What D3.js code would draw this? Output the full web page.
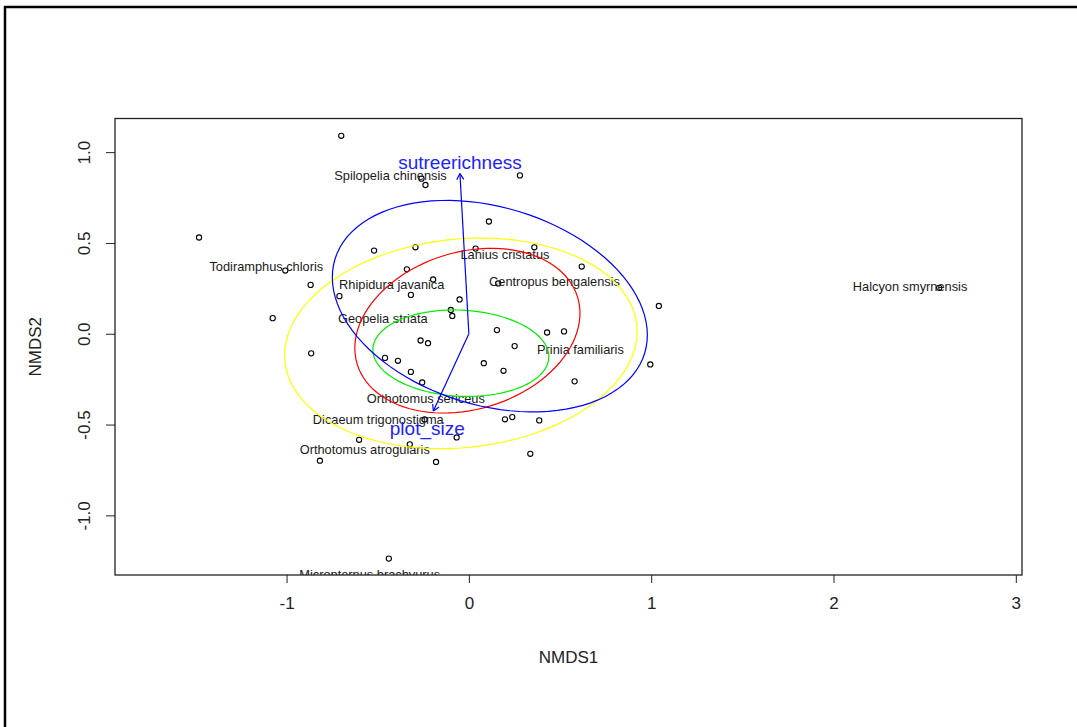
<!DOCTYPE html>
<html>
<head>
<meta charset="utf-8">
<script src="https://cdn.jsdelivr.net/npm/d3@7"></script>
<style>
  body { margin: 0; background: #fff; }
  svg { display: block; font-family: "Liberation Sans", Arial, sans-serif; }
</style>
</head>
<body>
<div id="chart"></div>
<script>
// Site scores (NMDS1, NMDS2)
const siteX = [-0.70, -1.48, -1.007, -0.868, -0.71, -1.076, -0.865, -0.52, -0.46, -0.26,
  -0.238, -0.293, -0.34, -0.196, -0.318, 0.037, -0.051, -0.099, -0.091, 0.28,
  0.11, 0.359, 0.619, 0.161, 1.042, 0.154, 0.429, 0.522, 0.251, -0.265,
  -0.224, -0.389, -0.318, -0.256, -0.602, -0.324, -0.817, -0.18, -0.067, 0.198,
  0.238, 0.386, 0.337, 0.58, 0.995, 0.082, 0.19, -0.439, 2.58, -0.243];
const siteY = [1.09, 0.53, 0.348, 0.269, 0.207, 0.086, -0.108, 0.458, -0.133, 0.854,
  0.819, 0.476, 0.355, 0.299, 0.214, 0.469, 0.189, 0.131, 0.098, 0.872,
  0.618, 0.476, 0.37, 0.277, 0.153, 0.02, 0.007, 0.013, -0.068, -0.037,
  -0.052, -0.149, -0.21, -0.268, -0.584, -0.609, -0.699, -0.706, -0.571, -0.471,
  -0.459, -0.477, -0.661, -0.262, -0.169, -0.162, -0.204, -1.238, 0.253, -0.472];

// Species scores
const speciesNames = ["Spilopelia chinensis", "Todiramphus chloris", "Rhipidura javanica",
  "Geopelia striata", "Lanius cristatus", "Centropus bengalensis", "Prinia familiaris",
  "Halcyon smyrnensis", "Orthotomus sericeus", "Dicaeum trigonostigma",
  "Orthotomus atrogularis", "Micropternus brachyurus"];
const speciesX = [-0.43, -1.111, -0.423, -0.472, 0.198, 0.47, 0.612, 2.42, -0.236, -0.497, -0.571, -0.544];
const speciesY = [0.87, 0.37, 0.269, 0.082, 0.436, 0.285, -0.086, 0.262, -0.357, -0.47, -0.636, -1.325];

// envfit vectors
const vectorNames = ["sutreerichness", "plot_size"];
const vectorX = [-0.049, -0.195];
const vectorY = [0.882, -0.425];
const vectorLabelX = [-0.049, -0.228];
const vectorLabelY = [0.942, -0.519];

// ordiellipse groups: centre, semi-axes, rotation (degrees)
const ellipseGroups = [1, 2, 3, 4];
const ellipseCX = [-0.044, -0.008, -0.044, 0.115];
const ellipseCY = [-0.107, 0.017, -0.053, 0.152];
const ellipseA = [0.483, 0.632, 0.970, 0.888];
const ellipseB = [0.237, 0.433, 0.574, 0.545];
const ellipseAngle = [-3, 17, 6, -17];
const ellipseColors = ["#00ee00", "#ff0000", "#ffff00", "#0000ff"];

const xTicks = [-1, 0, 1, 2, 3];
const yTicks = [-1.0, -0.5, 0.0, 0.5, 1.0];

const W = 1077, H = 727;
const box = { left: 115, right: 1022, top: 118.5, bottom: 575 };
const hyphen = s => s.replace("\u2212", "-");

const svg = d3.select("#chart").append("svg")
  .attr("width", W)
  .attr("height", H);

svg.append("rect").attr("width", W).attr("height", H).attr("fill", "#fff");

// outer frame (left and top edges only visible)
svg.append("path")
  .attr("d", `M5,${H} V7 H${W}`)
  .attr("fill", "none")
  .attr("stroke", "#000")
  .attr("stroke-width", 2.5);

const x = d3.scaleLinear().domain([-1.941, 3.034]).range([box.left, box.right]);
const y = d3.scaleLinear().domain([-1.3284, 1.1853]).range([box.bottom, box.top]);

svg.append("clipPath").attr("id", "plotclip")
  .append("rect")
  .attr("x", box.left).attr("y", box.top)
  .attr("width", box.right - box.left).attr("height", box.bottom - box.top);

// Axes
const xAxis = svg.append("g")
  .attr("transform", `translate(0,${box.bottom})`)
  .call(d3.axisBottom(x).tickValues(xTicks).tickSize(8).tickPadding(14)
    .tickFormat(d => hyphen(d3.format("d")(d))));
xAxis.select(".domain").remove();
xAxis.selectAll("line").attr("stroke", "#222");
xAxis.selectAll("text").attr("font-size", 17).attr("fill", "#222")
  .attr("font-family", "Liberation Sans, Arial, sans-serif");

const yAxis = svg.append("g")
  .attr("transform", `translate(${box.left},0)`)
  .call(d3.axisLeft(y).tickValues(yTicks).tickSize(9)
    .tickFormat(d => hyphen(d3.format(".1f")(d))));
yAxis.select(".domain").remove();
yAxis.selectAll("line").attr("stroke", "#222");
yAxis.selectAll("text")
  .attr("font-size", 17).attr("fill", "#222")
  .attr("font-family", "Liberation Sans, Arial, sans-serif")
  .attr("text-anchor", "middle")
  .attr("x", 0).attr("dy", 0)
  .attr("transform", `translate(-25,0) rotate(-90)`);

svg.append("text")
  .attr("x", (box.left + box.right) / 2)
  .attr("y", 663)
  .attr("text-anchor", "middle")
  .attr("font-size", 17)
  .attr("fill", "#222")
  .text("NMDS1");

svg.append("text")
  .attr("transform", `translate(41,${(box.top + box.bottom) / 2}) rotate(-90)`)
  .attr("text-anchor", "middle")
  .attr("font-size", 17)
  .attr("fill", "#222")
  .text("NMDS2");

const plot = svg.append("g").attr("clip-path", "url(#plotclip)");

// Site points
plot.selectAll("circle.site")
  .data(d3.range(siteX.length))
  .enter().append("circle")
  .attr("class", "site")
  .attr("cx", i => x(siteX[i]))
  .attr("cy", i => y(siteY[i]))
  .attr("r", 2.6)
  .attr("fill", "none")
  .attr("stroke", "#000")
  .attr("stroke-width", 1.1);

// Species labels
plot.selectAll("text.species")
  .data(d3.range(speciesNames.length))
  .enter().append("text")
  .attr("class", "species")
  .attr("x", i => x(speciesX[i]))
  .attr("y", i => y(speciesY[i]))
  .attr("dy", "0.35em")
  .attr("text-anchor", "middle")
  .attr("font-size", 12.8)
  .attr("fill", "#1a1a1a")
  .text(i => speciesNames[i]);

// Ellipses
const ellipseLine = d3.line().curve(d3.curveLinearClosed);
ellipseGroups.forEach((g, i) => {
  const th = ellipseAngle[i] * Math.PI / 180;
  const pts = d3.range(100).map(k => {
    const t = 2 * Math.PI * k / 100;
    const ex = ellipseCX[i] + ellipseA[i] * Math.cos(t) * Math.cos(th) - ellipseB[i] * Math.sin(t) * Math.sin(th);
    const ey = ellipseCY[i] + ellipseA[i] * Math.cos(t) * Math.sin(th) + ellipseB[i] * Math.sin(t) * Math.cos(th);
    return [x(ex), y(ey)];
  });
  plot.append("path")
    .attr("d", ellipseLine(pts))
    .attr("fill", "none")
    .attr("stroke", ellipseColors[i])
    .attr("stroke-width", 1.2);
});

// Vectors
vectorNames.forEach((name, i) => {
  const x0 = x(0), y0 = y(0), x1 = x(vectorX[i]), y1 = y(vectorY[i]);
  plot.append("line")
    .attr("x1", x0).attr("y1", y0).attr("x2", x1).attr("y2", y1)
    .attr("stroke", "#0000ff").attr("stroke-width", 1.2);
  const ang = Math.atan2(y1 - y0, x1 - x0);
  const len = 7;
  [-Math.PI / 6, Math.PI / 6].forEach(off => {
    plot.append("line")
      .attr("x1", x1).attr("y1", y1)
      .attr("x2", x1 - len * Math.cos(ang + off))
      .attr("y2", y1 - len * Math.sin(ang + off))
      .attr("stroke", "#0000ff").attr("stroke-width", 1.2);
  });
  plot.append("text")
    .attr("x", x(vectorLabelX[i]))
    .attr("y", y(vectorLabelY[i]))
    .attr("dy", "0.35em")
    .attr("text-anchor", "middle")
    .attr("font-size", 19)
    .attr("fill", "#2222ff")
    .text(name);
});

// Plot box
svg.append("rect")
  .attr("x", box.left).attr("y", box.top)
  .attr("width", box.right - box.left).attr("height", box.bottom - box.top)
  .attr("fill", "none")
  .attr("stroke", "#222")
  .attr("stroke-width", 1.3);
</script>
</body>
</html>
